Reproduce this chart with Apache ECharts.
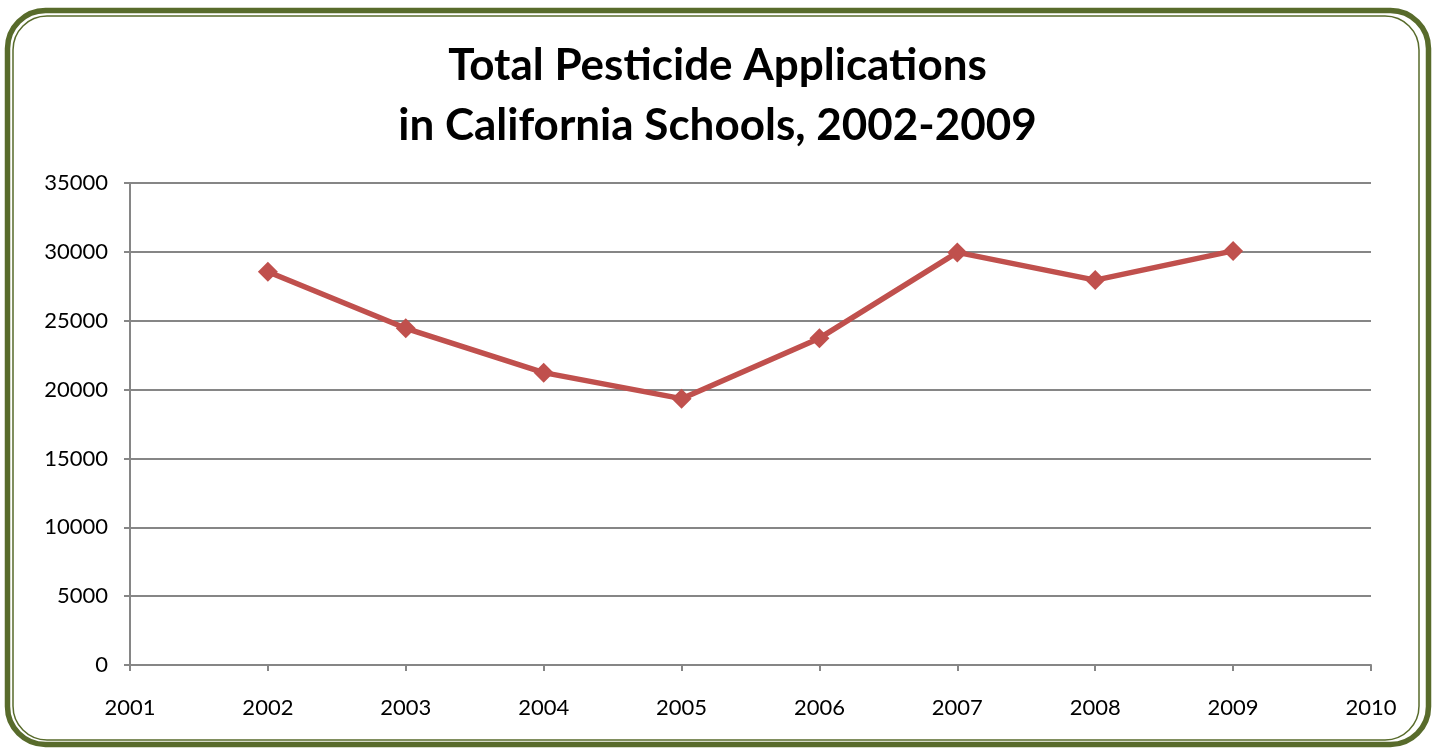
<!DOCTYPE html>
<html><head><meta charset="utf-8">
<script src="https://cdn.jsdelivr.net/npm/echarts@6/dist/echarts.min.js"></script>
<style>html,body{margin:0;padding:0;background:#fff}#c{width:1435px;height:750px}</style>
</head><body><div id="c"></div>
<script>
const years = [2002, 2003, 2004, 2005, 2006, 2007, 2008, 2009];
const applications = [28550, 24450, 21230, 19340, 23730, 29960, 27950, 30070];
const titleText = 'Total Pesticide Applications\nin California Schools, 2002-2009';

const chart = echarts.init(document.getElementById('c'));
chart.setOption({
  animation: false,
  backgroundColor: '#fff',
  title: {
    text: titleText, left: 'center', top: 31,
    textStyle: { fontFamily: 'Lato', fontWeight: 'bold', fontSize: 44, lineHeight: 60, color: '#000' }
  },
  graphic: [
    { type: 'rect', shape: { x: 7.5, y: 10.5, width: 1421, height: 734, r: 38 }, style: { fill: 'none', stroke: '#586B2B', lineWidth: 5.5 }, z: 100 },
    { type: 'rect', shape: { x: 13, y: 16, width: 1406, height: 724, r: 34 }, style: { fill: 'none', stroke: '#586B2B', lineWidth: 1.5 }, z: 100 }
  ],
  grid: { left: 130, right: 64, top: 183, bottom: 85 },
  xAxis: {
    type: 'value', min: 2001, max: 2010, interval: 1,
    axisLine: { lineStyle: { color: '#868686', width: 2 } },
    axisTick: { show: true, length: 6, lineStyle: { color: '#868686', width: 2 } },
    axisLabel: { formatter: v => String(v), fontFamily: 'Lato', fontSize: 22, color: '#000', margin: 32 },
    splitLine: { show: false }
  },
  yAxis: {
    type: 'value', min: 0, max: 35000, interval: 5000,
    axisLine: { show: true, lineStyle: { color: '#868686', width: 2 } },
    axisTick: { show: true, length: 6, lineStyle: { color: '#868686', width: 2 } },
    axisLabel: { formatter: v => String(v), fontFamily: 'Lato', fontSize: 22, color: '#000', margin: 22 },
    splitLine: { lineStyle: { color: '#868686', width: 2 } }
  },
  series: [{
    type: 'line',
    data: years.map((y, i) => [y, applications[i]]),
    symbol: 'diamond', symbolSize: 20,
    lineStyle: { color: '#C0504D', width: 5.5 },
    itemStyle: { color: '#C0504D' }
  }]
});
</script></body></html>
